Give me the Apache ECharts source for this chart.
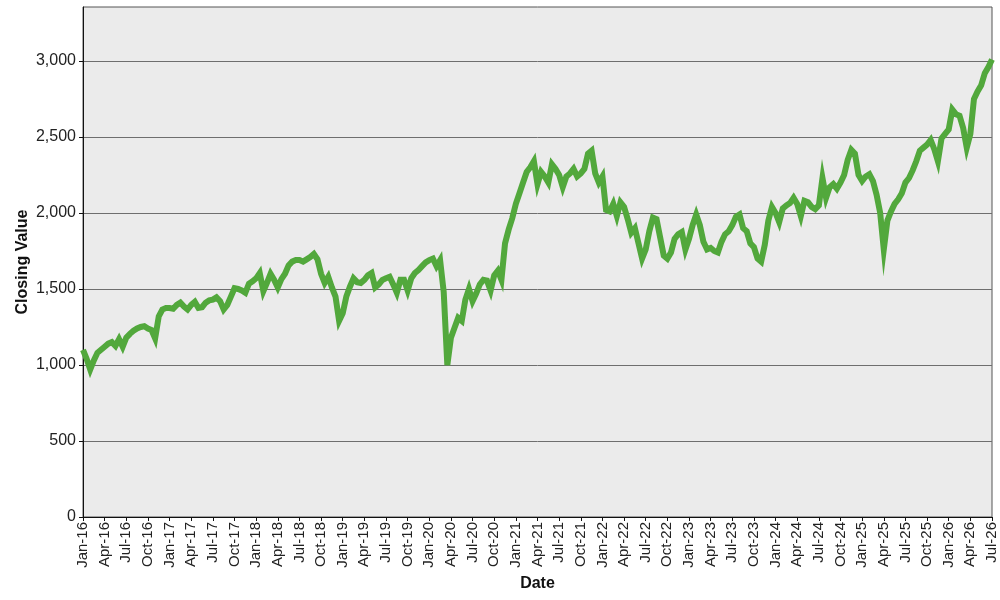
<!DOCTYPE html>
<html>
<head>
<meta charset="utf-8">
<title>Closing Value</title>
<script src="https://cdn.jsdelivr.net/npm/echarts@6/dist/echarts.min.js"></script>
<style>
  html, body { margin: 0; padding: 0; background: #fff; }
  #chart { width: 1000px; height: 600px; }
</style>
</head>
<body>
<div id="chart"></div>
<script>
var chart = echarts.init(document.getElementById('chart'));

// tick labels: quarterly, starting Jan-16
var monthNames = ['Jan', 'Feb', 'Mar', 'Apr', 'May', 'Jun', 'Jul', 'Aug', 'Sep', 'Oct', 'Nov', 'Dec'];
var startYear = 16;
var yTicks = [0, 500, 1000, 1500, 2000, 2500, 3000];

// closing values (Jan-16 .. Jul-26)
var values2016 = [1100, 1040, 970, 1030, 1080, 1100, 1120, 1140, 1150, 1125, 1170, 1120,
                  1180, 1205, 1225, 1240, 1250, 1255, 1240, 1230, 1175, 1320, 1365, 1375];
var values2017 = [1375, 1370, 1395, 1410, 1385, 1365, 1395, 1415, 1375, 1380, 1410, 1425,
                  1430, 1445, 1420, 1365, 1395, 1450, 1505, 1500, 1490, 1475, 1535, 1550];
var values2018 = [1570, 1605, 1485, 1540, 1600, 1560, 1510, 1565, 1600, 1655, 1680, 1690,
                  1690, 1680, 1695, 1710, 1730, 1695, 1600, 1540, 1580, 1510, 1450, 1290];
var values2019 = [1340, 1450, 1515, 1570, 1545, 1540, 1560, 1590, 1605, 1510, 1530, 1560,
                  1570, 1580, 1530, 1475, 1560, 1560, 1490, 1570, 1605, 1625, 1650, 1675];
var values2020 = [1690, 1700, 1650, 1690, 1480, 1000, 1180, 1245, 1310, 1290, 1430, 1500,
                  1420, 1470, 1530, 1560, 1555, 1490, 1590, 1620, 1560, 1800, 1890, 1965];
var values2021 = [2060, 2130, 2200, 2270, 2300, 2340, 2190, 2270, 2240, 2200, 2320, 2290,
                  2250, 2170, 2240, 2260, 2290, 2240, 2260, 2290, 2390, 2410, 2260, 2200];
var values2022 = [2240, 2020, 2010, 2060, 1980, 2070, 2040, 1960, 1870, 1900, 1800, 1700,
                  1760, 1880, 1970, 1960, 1840, 1720, 1700, 1740, 1830, 1860, 1875, 1760];
var values2023 = [1830, 1920, 1990, 1920, 1810, 1760, 1770, 1750, 1740, 1810, 1860, 1880,
                  1920, 1975, 1990, 1900, 1880, 1800, 1775, 1700, 1680, 1790, 1950, 2040];
var values2024 = [2000, 1940, 2030, 2050, 2065, 2100, 2060, 1980, 2080, 2070, 2040, 2025,
                  2050, 2230, 2100, 2170, 2190, 2160, 2200, 2250, 2350, 2415, 2390, 2250];
var values2025 = [2210, 2240, 2255, 2210, 2120, 2000, 1760, 1950, 2010, 2060, 2090, 2130,
                  2200, 2230, 2280, 2340, 2410, 2430, 2450, 2480, 2420, 2340, 2490, 2520];
var values2026 = [2550, 2680, 2650, 2640, 2560, 2430, 2520, 2750, 2800, 2840, 2920, 2960, 3010];

var closing = [].concat(values2016, values2017, values2018, values2019, values2020,
                        values2021, values2022, values2023, values2024, values2025, values2026);

// x is months since Jan-16, two readings per month
var seriesData = closing.map(function (v, i) { return [i / 2, v]; });

function monthLabel(m) {
    var y = startYear + Math.floor(m / 12);
    return monthNames[m % 12] + '-' + y;
}

var option = {
    animation: false,
    backgroundColor: '#ffffff',
    textStyle: { fontFamily: 'Liberation Sans, Arial, sans-serif' },
    grid: {
        left: 83, right: 8, top: 7, bottom: 83,
        show: true,
        backgroundColor: '#ebebeb',
        borderColor: '#555',
        borderWidth: 1
    },
    xAxis: {
        type: 'value',
        min: 0,
        max: 126,
        interval: 3,
        name: 'Date',
        nameLocation: 'middle',
        nameGap: 59,
        nameMoveOverlap: false,
        nameTextStyle: { fontSize: 16, fontWeight: 'bold', color: '#111' },
        axisLine: { lineStyle: { color: '#111', width: 1 } },
        axisTick: { show: true, length: 4, lineStyle: { color: '#111' } },
        axisLabel: {
            rotate: 90,
            margin: 5,
            fontSize: 15,
            color: '#222',
            formatter: function (v) { return monthLabel(Math.round(v)); }
        },
        splitLine: { show: false }
    },
    yAxis: {
        type: 'value',
        min: 0,
        max: 3355,
        interval: 500,
        name: 'Closing Value',
        nameLocation: 'middle',
        nameGap: 52,
        nameMoveOverlap: false,
        nameTextStyle: { fontSize: 16, fontWeight: 'bold', color: '#111' },
        axisLine: { show: true, lineStyle: { color: '#111', width: 1 } },
        axisTick: { show: true, length: 4, customValues: yTicks, lineStyle: { color: '#111' } },
        axisLabel: {
            margin: 7,
            fontSize: 16,
            color: '#222',
            customValues: yTicks,
            formatter: function (v) { return v.toLocaleString('en-US'); }
        },
        splitLine: { show: true, lineStyle: { color: '#6e6e6e', width: 1 } }
    },
    series: [{
        type: 'line',
        data: seriesData,
        showSymbol: false,
        lineStyle: { color: '#52a83c', width: 6, join: 'miter' },
        itemStyle: { color: '#52a83c' }
    }]
};

chart.setOption(option);
window.onresize = chart.resize;
</script>
</body>
</html>
